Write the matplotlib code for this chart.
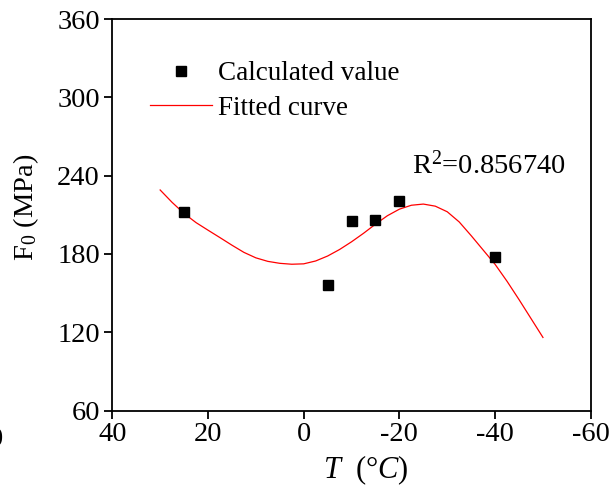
import matplotlib.pyplot as plt

plt.rcParams['font.family'] = ['Liberation Serif', 'DejaVu Serif']
plt.rcParams['mathtext.fontset'] = 'custom'
plt.rcParams['mathtext.rm'] = 'Liberation Serif'
plt.rcParams['mathtext.it'] = 'Liberation Serif:italic'
plt.rcParams['axes.unicode_minus'] = False

# calculated values
temp = [25, -5, -10, -15, -20, -40]
f0 = [212, 156.5, 205, 206, 220.5, 177.5]

# fitted curve
fit_t = [30, 27.5, 25, 22.5, 20, 17.5, 15, 12.5, 10, 7.5, 5, 2.5, 0,
         -2.5, -5, -7.5, -10, -12.5, -15, -17.5, -20, -22.5, -25, -27.5,
         -30, -32.5, -35, -37.5, -40, -42.5, -45, -47.5, -50]
fit_f = [229, 219.5, 211, 204, 198.2, 192.5, 186.7, 181.2, 177, 174.3, 172.8, 172.1, 172.4,
         174.6, 178.4, 183.4, 189.3, 195.8, 202.8, 209.3, 214.3, 217.3, 218.2, 216.6,
         212.3, 204.5, 194, 183, 172, 159, 145, 130.5, 116]

xticks = [40, 20, 0, -20, -40, -60]
yticks = [60, 120, 180, 240, 300, 360]

fig = plt.figure(figsize=(6.13, 4.93), dpi=100)
ax = fig.add_axes([0.1832, 0.1673, 0.7806, 0.7941])

ax.plot(fit_t, fit_f, color='red', lw=0.9, label='Fitted curve', zorder=2)
ax.plot(temp, f0, 's', color='black', ms=7.5, ls='none', label='Calculated value', zorder=3)

ax.set_xlim(40, -60)
ax.set_ylim(60, 360)
ax.set_xticks(xticks)
ax.set_yticks(yticks)
ax.tick_params(direction='out', length=6, width=1.3, labelsize=20.5, pad=2)
ax.tick_params(axis='y', pad=3)
for s in ax.spines.values():
    s.set_linewidth(1.3)

ax.set_xlabel(r'$\mathit{T}$  (°$\mathit{C}$)', fontsize=22)
ax.xaxis.set_label_coords(0.53, -0.11)
ax.set_ylabel(r'F$_0$ (MPa)', fontsize=20.5)
ax.yaxis.set_label_coords(-0.15, 0.52)

h, l = ax.get_legend_handles_labels()
ax.legend(h[::-1], l[::-1], loc='upper left', bbox_to_anchor=(0.079, 0.892),
          frameon=False, fontsize=19.5, borderpad=0, borderaxespad=0,
          handlelength=2.3, handletextpad=0.2, labelspacing=0.35)

ax.text(0.626, 0.606, r'R$^{2}$=0.856740', transform=ax.transAxes,
        fontsize=20.5, ha='left', va='baseline')

# piece of a neighbouring panel's tick label cut at the left edge
fig.text(-4 / 613, 0.0963, '0', fontsize=20.5, ha='center', va='baseline')

fig.savefig('out.png', dpi=100)
